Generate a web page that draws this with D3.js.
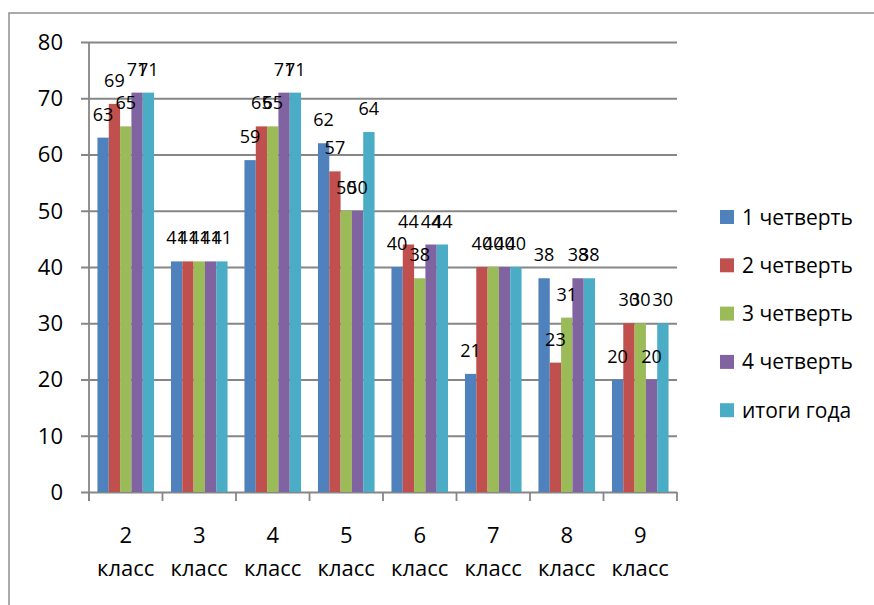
<!DOCTYPE html>
<html>
<head>
<meta charset="utf-8">
<script src="https://cdn.jsdelivr.net/npm/d3@7"></script>
<style>
  body { margin: 0; background: #fff; }
  text { font-family: "Open Sans", sans-serif; fill: #000; }
</style>
</head>
<body>
<div id="grafica"></div>
<script>
// datos del grafico
var clases = ["2 класс", "3 класс", "4 класс", "5 класс", "6 класс", "7 класс", "8 класс", "9 класс"];
var series = ["1 четверть", "2 четверть", "3 четверть", "4 четверть", "итоги года"];
var cuarto1 = [63, 41, 59, 62, 40, 21, 38, 20];
var cuarto2 = [69, 41, 65, 57, 44, 40, 23, 30];
var cuarto3 = [65, 41, 65, 50, 38, 40, 31, 30];
var cuarto4 = [71, 41, 71, 50, 44, 40, 38, 20];
var totalAnio = [71, 41, 71, 64, 44, 40, 38, 30];
var ticksY = [0, 10, 20, 30, 40, 50, 60, 70, 80];
var colores = ["#4F81BD", "#C0504D", "#9BBB59", "#8064A2", "#4BACC6"];

var valores = [cuarto1, cuarto2, cuarto3, cuarto4, totalAnio];

const ancho = 874, altura = 605;
const margen = { arriba: 42, derecha: 197, abajo: 113, izquierda: 89 };

var svg = d3.select("#grafica").append("svg")
    .attr("width", ancho)
    .attr("height", altura);

// marco exterior
svg.append("rect")
    .attr("x", 9).attr("y", 13)
    .attr("width", ancho).attr("height", altura)
    .attr("fill", "none")
    .attr("stroke", "#8e8e8e")
    .attr("stroke-width", 1.5);

var y = d3.scaleLinear()
    .domain([0, 80])
    .range([altura - margen.abajo, margen.arriba]);

var x = d3.scaleBand()
    .domain(clases)
    .range([margen.izquierda, ancho - margen.derecha])
    .paddingInner(0.23)
    .paddingOuter(0.115);

var xSerie = d3.scaleBand()
    .domain(series)
    .range([0, x.bandwidth()]);

// lineas de la cuadricula con marcas a la izquierda
svg.append("g")
    .attr("transform", "translate(" + margen.izquierda + ",0)")
    .call(d3.axisLeft(y).tickValues(ticksY).tickSize(-(ancho - margen.derecha - margen.izquierda)).tickFormat(""))
    .call(g => g.select(".domain").remove())
    .call(g => g.selectAll(".tick line").attr("stroke", "#868686").attr("stroke-width", 1.8)
        .attr("x1", -8));

// etiquetas del eje Y
svg.append("g").selectAll("text")
    .data(ticksY)
    .enter().append("text")
    .attr("x", 63)
    .attr("y", d => y(d))
    .attr("dy", "0.36em")
    .attr("text-anchor", "end")
    .style("font-size", "22px")
    .text(d => d);

// eje Y
svg.append("line")
    .attr("x1", margen.izquierda).attr("x2", margen.izquierda)
    .attr("y1", y(80)).attr("y2", y(0) + 9)
    .attr("stroke", "#868686").attr("stroke-width", 1.8);

// eje X con marcas entre categorias
var limites = d3.range(clases.length + 1).map(i => margen.izquierda + i * x.step());
svg.append("g").selectAll("line")
    .data(limites)
    .enter().append("line")
    .attr("x1", d => d).attr("x2", d => d)
    .attr("y1", y(0)).attr("y2", y(0) + 9)
    .attr("stroke", "#868686").attr("stroke-width", 1.8);

// barras
var grupos = svg.append("g").selectAll("g")
    .data(clases)
    .enter().append("g")
    .attr("transform", d => "translate(" + x(d) + ",0)");

grupos.selectAll("rect")
    .data((d, i) => series.map((s, j) => ({ serie: s, valor: valores[j][i], color: colores[j] })))
    .enter().append("rect")
    .attr("x", d => xSerie(d.serie))
    .attr("y", d => y(d.valor))
    .attr("width", xSerie.bandwidth())
    .attr("height", d => y(0) - y(d.valor))
    .attr("fill", d => d.color);

// etiquetas de datos (se solapan igual que en el original)
grupos.selectAll("text")
    .data((d, i) => series.map((s, j) => ({ serie: s, valor: valores[j][i] })))
    .enter().append("text")
    .attr("x", d => xSerie(d.serie) + xSerie.bandwidth() / 2)
    .attr("y", d => y(d.valor) - 17)
    .attr("text-anchor", "middle")
    .style("font-size", "18px")
    .text(d => d.valor);

// etiquetas del eje X en dos lineas
var etiquetasX = svg.append("g").selectAll("text")
    .data(clases)
    .enter().append("text")
    .attr("x", d => x(d) + x.bandwidth() / 2)
    .attr("y", 543)
    .attr("text-anchor", "middle")
    .style("font-size", "22px");

etiquetasX.selectAll("tspan")
    .data(d => d.split(" "))
    .enter().append("tspan")
    .attr("x", function () { return this.parentNode.getAttribute("x"); })
    .attr("dy", (d, i) => i === 0 ? 0 : 33)
    .text(d => d);

// leyenda
var leyenda = svg.append("g").selectAll("g")
    .data(series)
    .enter().append("g")
    .attr("transform", (d, i) => "translate(720," + (217 + i * 48.3) + ")");

leyenda.append("rect")
    .attr("x", 0).attr("y", -7)
    .attr("width", 14).attr("height", 14)
    .attr("fill", (d, i) => colores[i]);

leyenda.append("text")
    .attr("x", 22)
    .attr("dy", "0.36em")
    .style("font-size", "21px")
    .text(d => d);
</script>
</body>
</html>
